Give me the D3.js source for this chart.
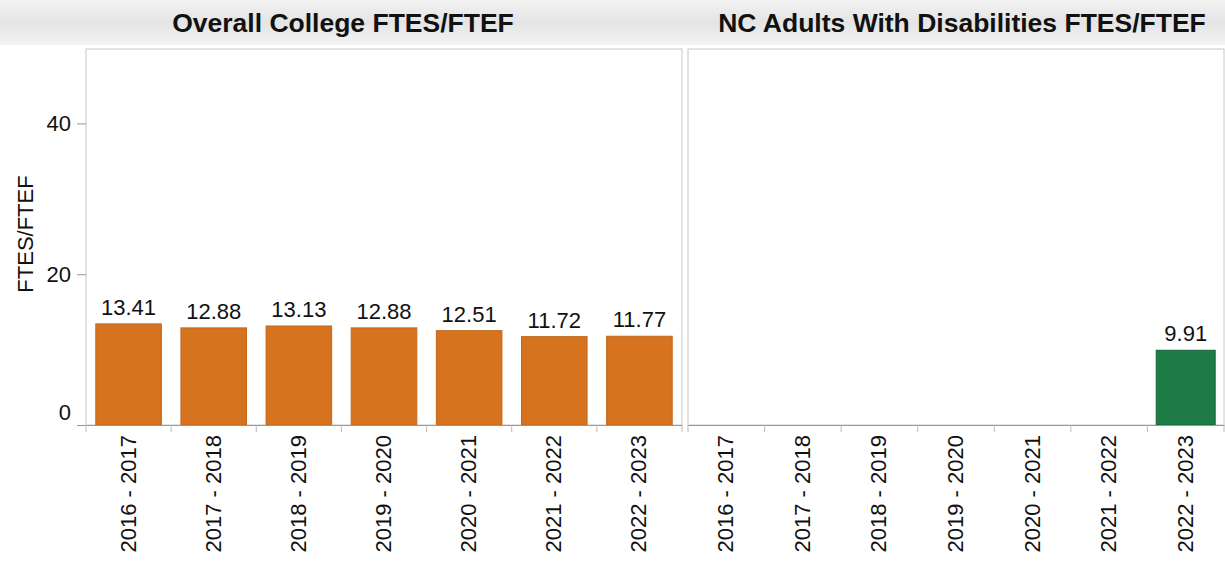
<!DOCTYPE html>
<html>
<head>
<meta charset="utf-8">
<script src="https://cdn.jsdelivr.net/npm/d3@7"></script>
<style>
  body { margin: 0; background: #fff; }
  svg { display: block; font-family: Arial, "Liberation Sans", sans-serif; }
</style>
</head>
<body>
<script>
var years = ["2016 - 2017", "2017 - 2018", "2018 - 2019", "2019 - 2020", "2020 - 2021", "2021 - 2022", "2022 - 2023"];
var overallValues = [13.41, 12.88, 13.13, 12.88, 12.51, 11.72, 11.77];
var disabilityValues = [null, null, null, null, null, null, 9.91];
var panelTitles = ["Overall College FTES/FTEF", "NC Adults With Disabilities FTES/FTEF"];
var yTicks = [0, 20, 40];

var width = 1225, height = 561;
var svg = d3.select("body").append("svg")
  .attr("width", width)
  .attr("height", height);

// title strip
var grad = svg.append("defs").append("linearGradient")
  .attr("id", "strip").attr("x1", 0).attr("x2", 0).attr("y1", 0).attr("y2", 1);
grad.append("stop").attr("offset", "0%").attr("stop-color", "#f2f2f2");
grad.append("stop").attr("offset", "50%").attr("stop-color", "#e4e4e4");
grad.append("stop").attr("offset", "100%").attr("stop-color", "#f4f4f4");
svg.append("rect").attr("x", 0).attr("y", 0).attr("width", width).attr("height", 45)
  .attr("fill", "url(#strip)");

var y = d3.scaleLinear().domain([0, 50]).range([425, 48]);

var panels = [
  {x0: 86, x1: 682, values: overallValues, color: "#d6731e", stroke: "#c3661a", tx: 343},
  {x0: 688, x1: 1224, values: disabilityValues, color: "#1e7b45", stroke: "#176539", tx: 962}
];

panels.forEach(function(p, pi) {
  var x = d3.scaleBand().domain(years).range([p.x0, p.x1]).paddingInner(0.23).paddingOuter(0.115);
  var g = svg.append("g");

  g.append("rect")
    .attr("x", p.x0).attr("y", 49)
    .attr("width", p.x1 - p.x0).attr("height", 376)
    .attr("fill", "#fff").attr("stroke", "#c8c8c8").attr("stroke-width", 1);

  svg.append("text")
    .attr("x", p.tx).attr("y", 32)
    .attr("text-anchor", "middle")
    .attr("font-size", "26.5px").attr("font-weight", "bold").attr("fill", "#111")
    .text(panelTitles[pi]);

  var data = years.map(function(d, i) { return {year: d, value: p.values[i]}; })
    .filter(function(d) { return d.value != null; });

  g.selectAll(".bar").data(data).enter().append("rect")
    .attr("x", function(d) { return x(d.year); })
    .attr("y", function(d) { return y(d.value); })
    .attr("width", x.bandwidth())
    .attr("height", function(d) { return y(0) - y(d.value); })
    .attr("fill", p.color)
    .attr("stroke", p.stroke).attr("stroke-width", 1);

  g.selectAll(".lbl").data(data).enter().append("text")
    .attr("x", function(d) { return x(d.year) + x.bandwidth() / 2; })
    .attr("y", function(d) { return y(d.value) - 9; })
    .attr("text-anchor", "middle")
    .attr("font-size", "22px").attr("fill", "#111")
    .text(function(d) { return d.value.toFixed(2); });

  var xAxis = d3.axisBottom(x).tickSize(0).tickSizeOuter(0).tickFormat("");
  var ax = g.append("g").attr("transform", "translate(0," + y(0) + ")").call(xAxis);
  ax.select(".domain").attr("stroke", "#999");
  // ticks at band boundaries
  var step = x.step();
  var bounds = d3.range(years.length + 1).map(function(i) { return x(years[0]) - x.paddingOuter() * step + i * step; });
  ax.selectAll(".bt").data(bounds).enter().append("line")
    .attr("x1", function(d) { return d; }).attr("x2", function(d) { return d; })
    .attr("y1", 0).attr("y2", 7).attr("stroke", "#bbb");

  g.selectAll(".xl").data(years).enter().append("text")
    .attr("transform", function(d) {
      return "translate(" + (x(d) + x.bandwidth() / 2 + 7) + ",435) rotate(-90)";
    })
    .attr("text-anchor", "end")
    .attr("font-size", "22px").attr("fill", "#111")
    .text(function(d) { return d; });
});

// y axis
var yAxis = d3.axisLeft(y).tickValues(yTicks).tickSize(9).tickFormat("");
var ya = svg.append("g").attr("transform", "translate(86,0)").call(yAxis);
ya.select(".domain").remove();
ya.selectAll(".tick line").attr("stroke", "#999");
svg.selectAll(".ylab").data(yTicks).enter().append("text")
  .attr("x", 71)
  .attr("y", function(d) { return d === 0 ? y(d) - 5 : y(d) + 8; })
  .attr("text-anchor", "end")
  .attr("font-size", "22px").attr("fill", "#111")
  .text(function(d) { return d; });

svg.append("text")
  .attr("transform", "translate(33,234) rotate(-90)")
  .attr("text-anchor", "middle")
  .attr("font-size", "22px").attr("fill", "#111")
  .text("FTES/FTEF");
</script>
</body>
</html>
